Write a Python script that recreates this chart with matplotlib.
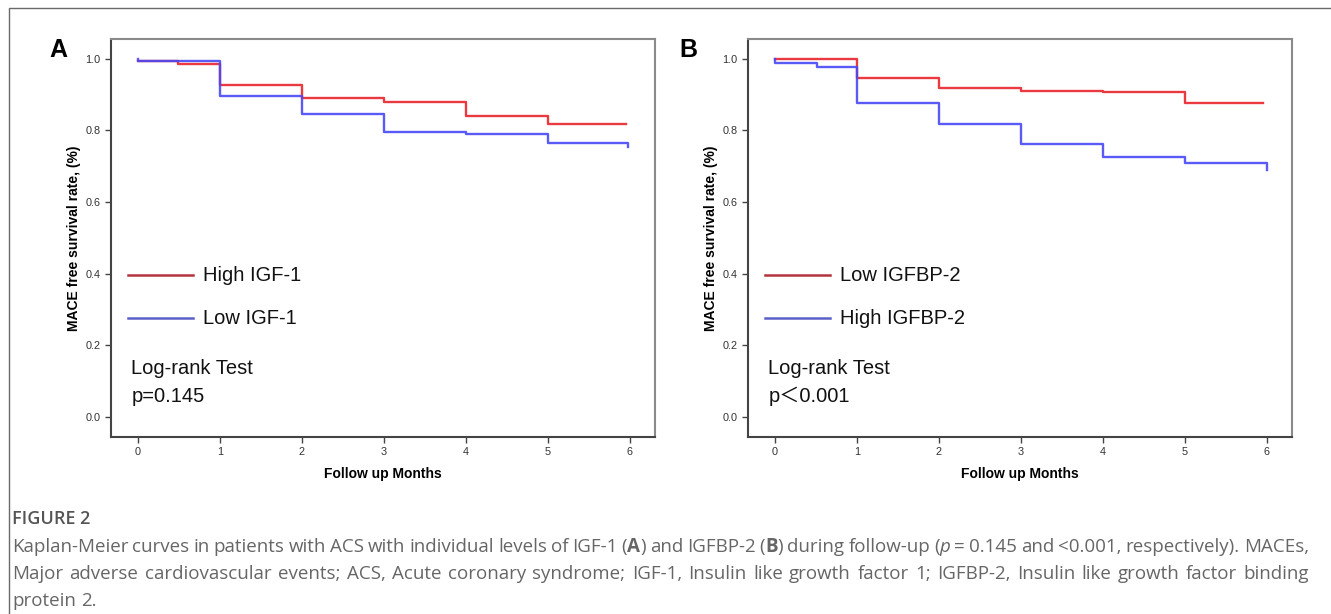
import re
import matplotlib
matplotlib.use('Agg')
import matplotlib.pyplot as plt
from matplotlib.lines import Line2D

# Kaplan-Meier step data
months_a_high = [0, 0.49, 1, 2, 3, 4, 5, 5.96]
surv_a_high = [0.994, 0.986, 0.926, 0.891, 0.878, 0.840, 0.818, 0.818]
months_a_low = [0, 0, 1, 2, 3, 4, 5, 5.98]
surv_a_low = [1.0, 0.994, 0.896, 0.847, 0.796, 0.789, 0.766, 0.754]

months_b_low = [0, 1, 2, 3, 4, 5, 5.96]
surv_b_low = [1.0, 0.947, 0.919, 0.911, 0.906, 0.876, 0.876]
months_b_high = [0, 0, 0.51, 1, 2, 3, 4, 5, 6.0]
surv_b_high = [1.0, 0.987, 0.977, 0.877, 0.819, 0.761, 0.725, 0.710, 0.689]

x_ticks = [0, 1, 2, 3, 4, 5, 6]
y_ticks = [0.0, 0.2, 0.4, 0.6, 0.8, 1.0]

labels_a = ['High IGF-1', 'Low IGF-1']
labels_b = ['Low IGFBP-2', 'High IGFBP-2']
p_text_a = 'p=0.145'
p_text_b = 'p\uff1c0.001'

caption_title = 'FIGURE 2'
caption_lines = [
    'Kaplan-Meier curves in patients with ACS with individual levels of IGF-1 (*A*) and IGFBP-2 (*B*) during follow-up (_p_ = 0.145 and <0.001, respectively). MACEs,',
    'Major adverse cardiovascular events; ACS, Acute coronary syndrome; IGF-1, Insulin like growth factor 1; IGFBP-2, Insulin like growth factor binding',
    'protein 2.',
]

W, H = 1331, 614
fig = plt.figure(figsize=(W / 100, H / 100), dpi=100)
plt.rcParams['font.family'] = ['Liberation Sans', 'Noto Sans CJK SC', 'DejaVu Sans']

RED = '#e8232b'
BLUE = '#4848f5'
LEG_RED = '#b3323c'
LEG_BLUE = '#5a60c8'


def km_panel(left, data, labels, p_text, letter, letter_x):
    ax = fig.add_axes([left / W, 1 - 437 / H, 544 / W, 398 / H])
    (t1, s1), (t2, s2) = data
    ax.step(t1, s1, where='post', color=RED, lw=1.7, alpha=0.9)
    ax.step(t2, s2, where='post', color=BLUE, lw=1.7, alpha=0.9)
    ax.set_xlim(-0.33, 6.31)
    ax.set_ylim(-0.056, 1.055)
    ax.set_xticks(x_ticks)
    ax.set_yticks(y_ticks)
    ax.set_yticklabels(['%.1f' % v for v in y_ticks])
    ax.tick_params(direction='out', length=4, width=1, colors='#444',
                   labelsize=7.8, labelcolor='#333')
    for side in ['left', 'bottom']:
        ax.spines[side].set_color('#444')
        ax.spines[side].set_linewidth(1.5)
    for side in ['top', 'right']:
        ax.spines[side].set_color('#8a8a8a')
        ax.spines[side].set_linewidth(1.5)
    ax.set_xlabel('Follow up Months', fontsize=10, fontweight='bold', labelpad=7)
    ax.set_ylabel('MACE free survival rate, (%)', fontsize=10, fontweight='bold', labelpad=3)

    # in-plot legend and test text
    ax.plot([-0.12, 0.67], [0.395, 0.395], color=LEG_RED, lw=1.8)
    ax.plot([-0.12, 0.67], [0.275, 0.275], color=LEG_BLUE, lw=1.8)
    ax.text(0.79, 0.395, labels[0], fontsize=14.5, va='center', color='#111')
    ax.text(0.79, 0.275, labels[1], fontsize=14.5, va='center', color='#111')
    ax.text(-0.08, 0.135, 'Log-rank Test', fontsize=14.5, va='center', color='#111')
    ax.text(-0.08, 0.057, p_text, fontsize=14.5, va='center', color='#111')

    fig.text(letter_x / W, 1 - 50 / H, letter, fontsize=18, fontweight='bold',
             ha='center', va='center')
    return ax


km_panel(111, [(months_a_high, surv_a_high), (months_a_low, surv_a_low)],
         labels_a, p_text_a, 'A', 58)
km_panel(748, [(months_b_low, surv_b_low), (months_b_high, surv_b_high)],
         labels_b, p_text_b, 'B', 688)

# outer frame (open at right and bottom)
fig.add_artist(Line2D([9 / W, 9 / W, 1.0], [0.0, 1 - 8 / H, 1 - 8 / H],
                      transform=fig.transFigure, color='#6a6a6a', lw=1.0))

# caption
CAP = '#666666'
CAP_SIZE = 13.5
cap_font = ['Open Sans', 'DejaVu Sans']
fig.text(12 / W, 1 - 519 / H, caption_title, fontsize=13, fontweight='semibold',
         color='#555555', family=cap_font, va='center')

renderer = fig.canvas.get_renderer()
x_left, x_right = 12, 1309
line_y = [547, 574, 601]


def word_parts(word):
    parts = []
    for seg in re.split(r'(\*[^*]+\*|_[^_]+_)', word):
        if not seg:
            continue
        if seg.startswith('*'):
            parts.append((seg[1:-1], 'bold', 'normal'))
        elif seg.startswith('_'):
            parts.append((seg[1:-1], 'normal', 'italic'))
        else:
            parts.append((seg, 'normal', 'normal'))
    return parts


for i, line in enumerate(caption_lines):
    y = 1 - line_y[i] / H
    words = []
    for w in line.split(' '):
        objs = []
        for txt, wt, st in word_parts(w):
            t = fig.text(0, y, txt, fontsize=CAP_SIZE, color=CAP, family=cap_font,
                         fontweight=wt, fontstyle=st, va='center')
            objs.append((t, t.get_window_extent(renderer).width))
        words.append(objs)
    widths = [sum(wd for _, wd in objs) for objs in words]
    justify = i < len(caption_lines) - 1
    if justify and len(words) > 1:
        gap = (x_right - x_left - sum(widths)) / (len(words) - 1)
    else:
        space = fig.text(0, 0, 'a a', fontsize=CAP_SIZE, family=cap_font)
        sp2 = fig.text(0, 0, 'aa', fontsize=CAP_SIZE, family=cap_font)
        gap = space.get_window_extent(renderer).width - sp2.get_window_extent(renderer).width
        space.remove()
        sp2.remove()
    x = x_left
    for objs in words:
        for t, wd in objs:
            t.set_x(x / W)
            x += wd
        x += gap

fig.savefig('out.png', dpi=100)
